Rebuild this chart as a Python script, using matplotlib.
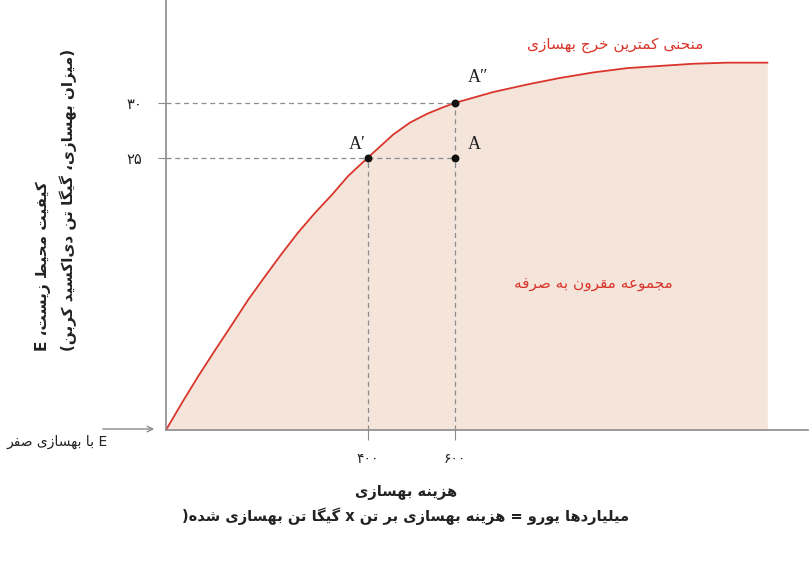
import matplotlib
matplotlib.use('Agg')
import matplotlib.pyplot as plt

# data (x axis is schematic: origin sits at about -67)
curve_x = [-67, -30, 7, 46, 86, 123, 162, 201, 238, 277, 317, 354, 400,
           458, 497, 536, 573, 600, 689, 768, 844, 920, 999, 1075, 1151, 1230, 1323]
curve_y = [0, 2.5, 4.9, 7.3, 9.7, 11.95, 14.1, 16.2, 18.1, 19.9, 21.6, 23.3, 25,
           27.1, 28.2, 29.0, 29.6, 30, 31.0, 31.7, 32.3, 32.8, 33.2, 33.4, 33.6, 33.7, 33.7]

pts_x = [400, 600, 600]
pts_y = [25, 30, 25]
pts_names = ['A\u2032', 'A\u2033', 'A']

xticks = [400, 600]
xtick_labels = ['۴۰۰', '۶۰۰']
yticks = [25, 30]
ytick_labels = ['۲۵', '۳۰']

curve_label = 'منحنی کمترین خرج بهسازی'
set_label = 'مجموعه مقرون به صرفه'
ylabel = 'کیفیت محیط زیست، E\n(میزان بهسازی، گیگا تن دی\u200cاکسید کربن)'
xlabel = 'هزینه بهسازی\nمیلیاردها یورو = هزینه بهسازی بر تن x گیگا تن بهسازی شده('
zero_label = 'E با بهسازی صفر'

# --- minimal arabic/persian shaping + rtl ordering (matplotlib does no shaping) ---
# isolated, final, initial, medial
FORMS = {
    'ا': (0xFE8D, 0xFE8E, None, None),
    'ب': (0xFE8F, 0xFE90, 0xFE91, 0xFE92),
    'ت': (0xFE95, 0xFE96, 0xFE97, 0xFE98),
    'ج': (0xFE9D, 0xFE9E, 0xFE9F, 0xFEA0),
    'ح': (0xFEA1, 0xFEA2, 0xFEA3, 0xFEA4),
    'خ': (0xFEA5, 0xFEA6, 0xFEA7, 0xFEA8),
    'د': (0xFEA9, 0xFEAA, None, None),
    'ر': (0xFEAD, 0xFEAE, None, None),
    'ز': (0xFEAF, 0xFEB0, None, None),
    'س': (0xFEB1, 0xFEB2, 0xFEB3, 0xFEB4),
    'ش': (0xFEB5, 0xFEB6, 0xFEB7, 0xFEB8),
    'ص': (0xFEB9, 0xFEBA, 0xFEBB, 0xFEBC),
    'ط': (0xFEC1, 0xFEC2, 0xFEC3, 0xFEC4),
    'ع': (0xFEC9, 0xFECA, 0xFECB, 0xFECC),
    'ف': (0xFED1, 0xFED2, 0xFED3, 0xFED4),
    'ق': (0xFED5, 0xFED6, 0xFED7, 0xFED8),
    'ل': (0xFEDD, 0xFEDE, 0xFEDF, 0xFEE0),
    'م': (0xFEE1, 0xFEE2, 0xFEE3, 0xFEE4),
    'ن': (0xFEE5, 0xFEE6, 0xFEE7, 0xFEE8),
    'ه': (0xFEE9, 0xFEEA, 0xFEEB, 0xFEEC),
    'و': (0xFEED, 0xFEEE, None, None),
    'ک': (0xFB8E, 0xFB8F, 0xFB90, 0xFB91),
    'گ': (0xFB92, 0xFB93, 0xFB94, 0xFB95),
    'ی': (0xFBFC, 0xFBFD, 0xFBFE, 0xFBFF),
}
MIRROR = {'(': ')', ')': '('}


def shape(text):
    out = []
    for i, c in enumerate(text):
        if c not in FORMS:
            out.append(c)
            continue
        prev = text[i - 1] if i > 0 else None
        nxt = text[i + 1] if i < len(text) - 1 else None
        f = FORMS[c]
        jp = prev in FORMS and FORMS[prev][2] is not None
        jn = f[2] is not None and nxt in FORMS
        if jp and jn:
            g = f[3]
        elif jp:
            g = f[1]
        elif jn:
            g = f[2]
        else:
            g = f[0]
        out.append(chr(g))
    return ''.join(out).replace('\u200c', '')


def fa(text):
    lines = []
    for line in text.split('\n'):
        s = shape(line)
        runs = []
        for c in s:
            ltr = (c.isascii() and c.isalnum()) or ('\u06f0' <= c <= '\u06f9')
            if runs and runs[-1][0] == ltr:
                runs[-1][1].append(c)
            else:
                runs.append([ltr, [c]])
        parts = []
        for ltr, cs in reversed(runs):
            if ltr:
                parts.append(''.join(cs))
            else:
                parts.append(''.join(MIRROR.get(c, c) for c in reversed(cs)))
        lines.append(''.join(parts))
    return '\n'.join(lines)


plt.rcParams['font.family'] = ['DejaVu Sans']

red = '#d9352b'
grey = '#8c8c8c'

fig = plt.figure(figsize=(8.1, 5.66), dpi=100)
ax = fig.add_axes([166 / 810, 136 / 566, 642 / 810, 430 / 566])

ax.fill_between(curve_x, curve_y, 0, color='#f4e4da', lw=0)
ax.plot(curve_x, curve_y, color=red, lw=1.3)

# guide lines
for px, py in zip(pts_x[:2], pts_y[:2]):
    ax.plot([-67, px], [py, py], color=grey, ls=(0, (4, 3)), lw=0.9)
    ax.plot([px, px], [0, py], color=grey, ls=(0, (4, 3)), lw=0.9)
ax.plot([400, 600], [25, 25], color=grey, ls=(0, (4, 3)), lw=0.9)

ax.scatter(pts_x, pts_y, color='#111111', s=22, zorder=5)
offsets = [(-25, 1.2), (54, 2.3), (45, 1.2)]
for x, y, name, (dx, dy) in zip(pts_x, pts_y, pts_names, offsets):
    ax.text(x + dx, y + dy, name, family=['Liberation Serif', 'DejaVu Serif'],
            fontsize=13, ha='center', va='center', color='#222222')

ax.text(971, 35.3, fa(curve_label), color=red, fontsize=11, ha='center', va='center')
ax.text(920, 13.4, fa(set_label), color=red, fontsize=11, ha='center', va='center')

ax.set_xlim(-67, 1417)
ax.set_ylim(0, 39.45)
ax.set_xticks(xticks)
ax.set_xticklabels([fa(t) for t in xtick_labels])
ax.set_yticks(yticks)
ax.set_yticklabels([fa(t) for t in ytick_labels])
ax.tick_params(axis='x', length=7, color=grey, pad=9, labelsize=10, labelcolor='#222222')
ax.tick_params(axis='y', length=6, color=grey, pad=11, labelsize=10.5, labelcolor='#222222')

for side in ['top', 'right']:
    ax.spines[side].set_visible(False)
for side in ['left', 'bottom']:
    ax.spines[side].set_color(grey)
    ax.spines[side].set_linewidth(1.2)

fig.text(56 / 810, 1 - 200 / 566, fa(ylabel), rotation=90, ha='center', va='center',
         multialignment='left', fontsize=11, fontweight='bold', linespacing=1.6, color='#222222')
fig.text(406 / 810, 1 - 505 / 566, fa(xlabel), ha='center', va='center',
         multialignment='center', fontsize=10.5, fontweight='bold', linespacing=1.6, color='#222222')
fig.text(108 / 810, 1 - 442 / 566, fa(zero_label), ha='right', va='center',
         fontsize=10, color='#222222')
ax.annotate('', xy=(157, 137), xytext=(100, 137), xycoords='figure pixels',
            textcoords='figure pixels',
            arrowprops=dict(arrowstyle='->', color=grey, lw=1))

fig.savefig('out.png', dpi=100)
